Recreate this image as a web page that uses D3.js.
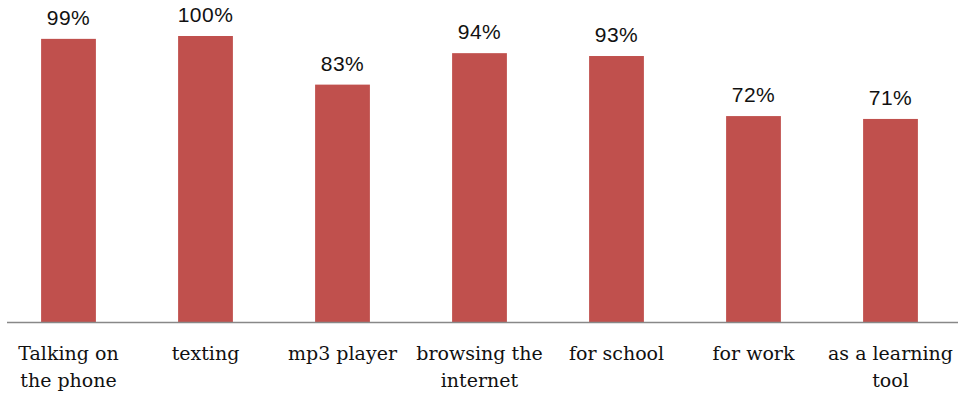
<!DOCTYPE html>
<html>
<head>
<meta charset="utf-8">
<script src="https://cdn.jsdelivr.net/npm/d3@7"></script>
<style>
  body { margin: 0; background: #fff; }
  svg { display: block; }
</style>
</head>
<body>
<svg id="chart" width="958" height="394"></svg>
<script>
// data
const categories = [
  ['Talking on', 'the phone'],
  ['texting'],
  ['mp3 player'],
  ['browsing the', 'internet'],
  ['for school'],
  ['for work'],
  ['as a learning', 'tool'],
];
const values = [99, 100, 83, 94, 93, 72, 71];

const width = 958;
const height = 394;
const baseY = 322;

const svg = d3.select('#chart');

const x = d3.scaleBand()
  .domain(d3.range(values.length))
  .range([0, 959])
  .paddingInner(0.6)
  .paddingOuter(0.3);

const y = d3.scaleLinear()
  .domain([0, 100])
  .range([baseY, 36]);

svg.append('g').selectAll('rect')
  .data(values)
  .join('rect')
  .attr('x', (d, i) => x(i))
  .attr('y', d => y(d))
  .attr('width', x.bandwidth())
  .attr('height', d => baseY - y(d))
  .attr('fill', '#c0504d');

// value labels
svg.append('g').selectAll('text')
  .data(values)
  .join('text')
  .attr('x', (d, i) => x(i) + x.bandwidth() / 2)
  .attr('y', d => y(d) - 14)
  .attr('text-anchor', 'middle')
  .style('font-family', '"Liberation Sans", Arial, sans-serif')
  .style('font-size', '21px')
  .style('letter-spacing', '0.5px')
  .attr('fill', '#111')
  .text(d => `${d}%`);

// axis line
svg.append('line')
  .attr('x1', 7).attr('x2', width)
  .attr('y1', baseY + 0.5).attr('y2', baseY + 0.5)
  .attr('stroke', '#888')
  .attr('stroke-width', 1.5);

// category labels
const xAxis = d3.axisBottom(x).tickSize(0).tickFormat('');
const axisG = svg.append('g')
  .attr('transform', `translate(0,${baseY})`)
  .call(xAxis);
axisG.select('.domain').remove();

axisG.selectAll('.tick text')
  .attr('y', 38)
  .attr('dy', 0)
  .style('font-family', '"DejaVu Serif", serif')
  .style('font-size', '19px')
  .attr('fill', '#111')
  .each(function (d) {
    const t = d3.select(this);
    categories[d].forEach((line, k) => {
      t.append('tspan')
        .attr('x', 0)
        .attr('dy', k === 0 ? 0 : 27)
        .text(line);
    });
  });
</script>
</body>
</html>
